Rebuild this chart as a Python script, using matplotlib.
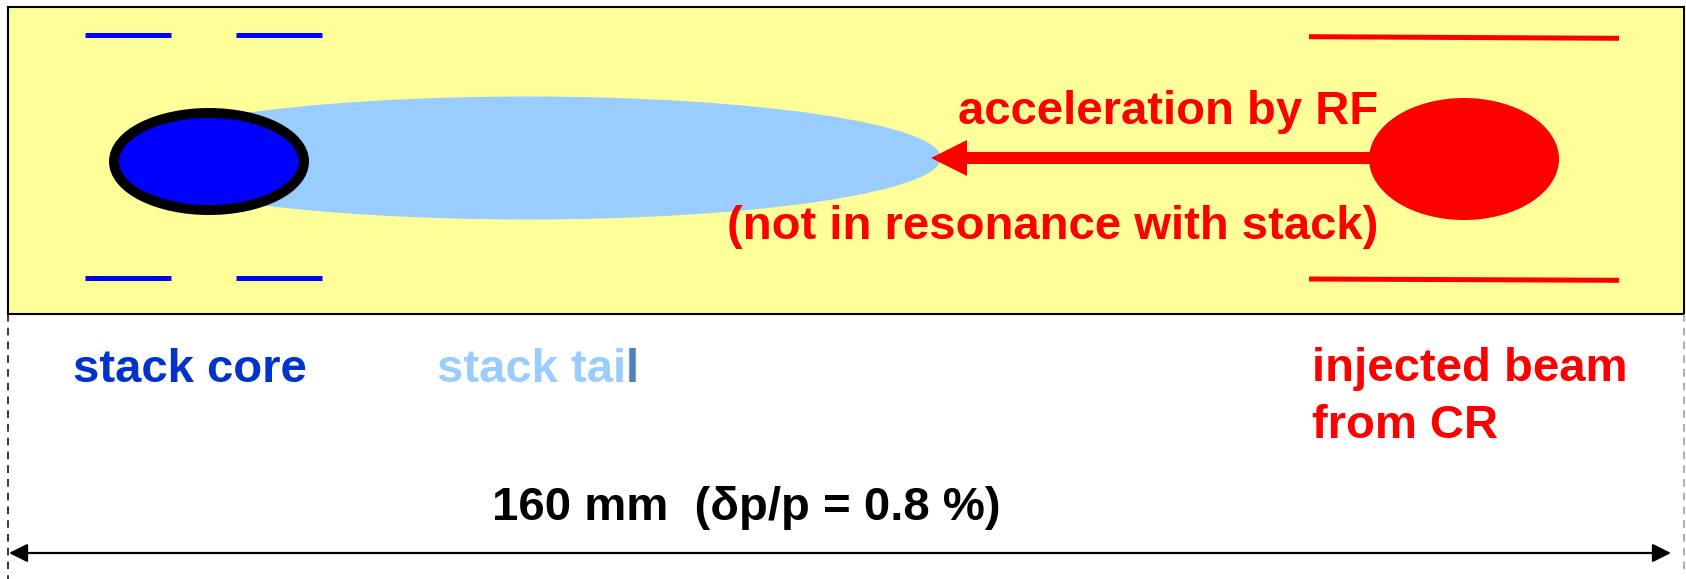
import matplotlib.pyplot as plt
from matplotlib.patches import Rectangle, Ellipse, FancyArrow

plt.rcParams['font.family'] = ['Liberation Sans', 'DejaVu Sans']

# labels
top_labels = ["acceleration by RF", "(not in resonance with stack)"]
core_label = "stack core"
tail_label = ["stack tai", "l"]
beam_label = ["injected beam", "from CR"]
width_label = "160 mm  (\u03b4p/p = 0.8 %)"

yellow = "#FFFF99"
core_blue = "#0000FF"
tail_blue = "#99CCFF"
red = "#FF0000"

W, H = 1686, 579
fig = plt.figure(figsize=(W / 100, H / 100), dpi=100)
ax = fig.add_axes([0, 0, 1, 1])
ax.set_xlim(0, W)
ax.set_ylim(H, 0)
ax.axis("off")

# yellow box
ax.add_patch(Rectangle((8, 7), 1676, 307, facecolor=yellow, edgecolor="black", lw=1.5, zorder=1))

# blue pickup plates
for x0, x1 in [(85, 171), (236, 322)]:
    for y in [34.5, 278]:
        ax.plot([x0, x1], [y, y], color=core_blue, lw=3.6, solid_capstyle="butt", zorder=2)

# red pickup plates (slightly tilted)
ax.plot([1309, 1619], [36.7, 38.3], color=red, lw=3.6, solid_capstyle="butt", zorder=2)
ax.plot([1309, 1619], [279, 280.3], color=red, lw=3.6, solid_capstyle="butt", zorder=2)

# stack tail and core
ax.add_patch(Ellipse((527, 158), 828, 123, facecolor=tail_blue, edgecolor="none", zorder=3))
ax.add_patch(Ellipse((209, 161.5), 190, 97, facecolor=core_blue, edgecolor="black", lw=7.2, zorder=4))

# injected beam
ax.add_patch(Ellipse((1464, 159), 190, 122, facecolor=red, edgecolor="none", zorder=3))

# RF acceleration arrow
ax.add_patch(FancyArrow(1372, 158, -441, 0, width=12, head_width=36, head_length=36,
                        length_includes_head=True, color=red, lw=0, zorder=3))

txt = dict(fontsize=34, fontweight="bold")
ax.text(1378, 124, top_labels[0], color=red, ha="right", va="baseline", zorder=5, **txt)
ax.text(1378, 239, top_labels[1], color=red, ha="right", va="baseline", zorder=5, **txt)

ax.text(73, 382, core_label, color="#0033CC", ha="left", va="baseline", **txt)
# "stack tail" with a darker final letter
t1 = ax.text(437, 382, tail_label[0], color=tail_blue, ha="left", va="baseline", **txt)
ax.annotate(tail_label[1], xy=(1, 0), xycoords=t1, ha="left", va="bottom",
            color="#4F81BD", **txt)
ax.text(1312, 381, beam_label[0], color=red, ha="left", va="baseline", **txt)
ax.text(1312, 438, beam_label[1], color=red, ha="left", va="baseline", **txt)

ax.text(492, 520, width_label, color="black", ha="left", va="baseline", **txt)

# dimension line
ax.annotate("", xy=(9, 553), xytext=(1671, 553),
            arrowprops=dict(arrowstyle="<|-|>", color="black", lw=1.6,
                            mutation_scale=28, shrinkA=0, shrinkB=0))
ax.plot([8, 8], [314, 579], color="black", lw=1.1, ls=(0, (5, 4)))
ax.plot([1684, 1684], [314, 570], color="#999999", lw=1.1, ls=(0, (5, 4)))

fig.savefig("out.png", dpi=100)
